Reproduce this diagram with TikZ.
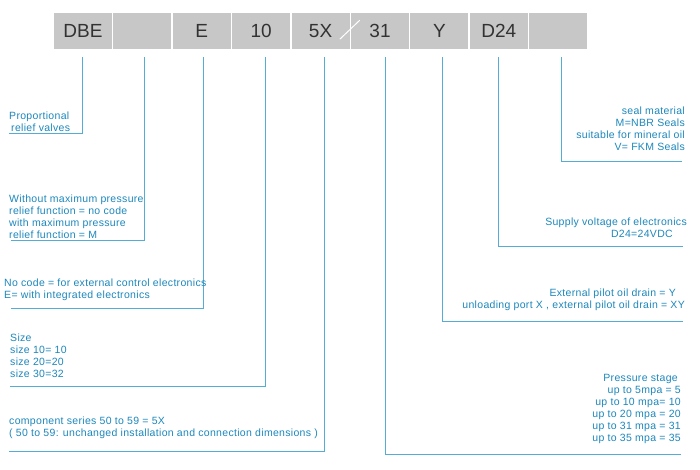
\documentclass[tikz,border=0pt]{standalone}
\usepackage{fontspec}
\setmainfont{Liberation Sans}
\newfontfamily\notefont[LetterSpace=3]{Liberation Sans}
\usetikzlibrary{positioning}

\definecolor{cellgray}{RGB}{199,199,199}
\definecolor{codegray}{RGB}{50,50,50}
\definecolor{noteblue}{RGB}{28,135,188}
\definecolor{leadblue}{RGB}{85,172,212}

\begin{document}
\begin{tikzpicture}[
      x=1pt, y=-1pt,
      cell/.style={fill=cellgray, text=codegray, minimum width=58pt,
        minimum height=36pt, inner sep=0pt,
        font=\fontsize{19}{19}\selectfont},
      note/.style={text=noteblue, inner sep=0pt,
        font=\notefont\fontsize{10.5}{12}\selectfont},
      lead/.style={draw=leadblue, line width=0.9pt}
    ]
    \useasboundingbox (0,0) rectangle (700,469);

    % code cells
    \foreach \i/\txt in {1/DBE,2/{},3/E,4/10,5/5X,6/31,7/Y,8/D24,9/{}}
      \node[cell] (c\i) at ({83+(\i-1)*59.4},31) {\txt};
    \draw[white, line width=1pt] (c5.south east) ++(-10,-10) -- ++(20,-19);

    % ends of the leaders
    \coordinate (e1) at (9,133);
    \coordinate (e2) at (11,240);
    \coordinate (e3) at (11,308);
    \coordinate (e4) at (10,386);
    \coordinate (e5) at (9,451);
    \coordinate (e6) at (681,454);
    \coordinate (e7) at (683,321);
    \coordinate (e8) at (683,246);
    \coordinate (e9) at (682,161);

    \foreach \c/\dx/\e in {c1/-1/e1, c2/1.6/e2, c3/1.2/e3, c4/3.8/e4,
        c5/3.4/e5, c6/5/e6, c7/2.6/e7, c8/0/e8, c9/2.8/e9}
      \draw[lead] ([shift={(\dx,8)}]\c.south) |- (\e);

    % left notes
    \node[note, align=left, anchor=south west] (t1) at ([shift={(0,-1.5)}]e1)
      {Proportional\\\hspace*{2pt}relief valves};
    \node[note, align=left, anchor=south west] (t2) at ([shift={(-2,-1.5)}]e2)
      {Without maximum pressure\\relief function = no code\\with maximum pressure\\relief function = M};
    \node[note, align=left, anchor=south west] (t3) at ([shift={(-7,-7)}]e3)
      {No code = for external control electronics\\E= with integrated electronics};
    \node[note, align=left, anchor=south west] (t4) at ([shift={(0,-8)}]e4)
      {Size\\size 10= 10\\size 20=20\\size 30=32};
    \node[note, align=left, anchor=south west] (t5) at ([shift={(0,-12)}]e5)
      {component series 50 to 59 = 5X\\( 50 to 59: unchanged installation and connection dimensions )};

    % right notes
    \node[note, align=right, anchor=south east] (t6) at ([shift={(0,-10)}]e6)
      {Pressure stage\hspace*{3pt}\\up to 5mpa = 5\hspace*{1pt}\\up to 10 mpa= 10\\up to 20 mpa = 20\\up to 31 mpa = 31\\up to 35 mpa = 35};
    \node[note, align=right, anchor=south east] (t7) at ([shift={(2,-10)}]e7)
      {External pilot oil drain = Y\hspace*{9pt}\\unloading port X , external pilot oil drain = XY};
    \node[note, align=right, anchor=south east] (t8) at ([shift={(4,-8)}]e8)
      {Supply voltage of electronics\\D24=24VDC\hspace*{14pt}};
    \node[note, align=right, anchor=south east] (t9) at ([shift={(3,-10)}]e9)
      {seal material\\M=NBR Seals\\suitable for mineral oil\\V= FKM Seals};
  \end{tikzpicture}
\end{document}
